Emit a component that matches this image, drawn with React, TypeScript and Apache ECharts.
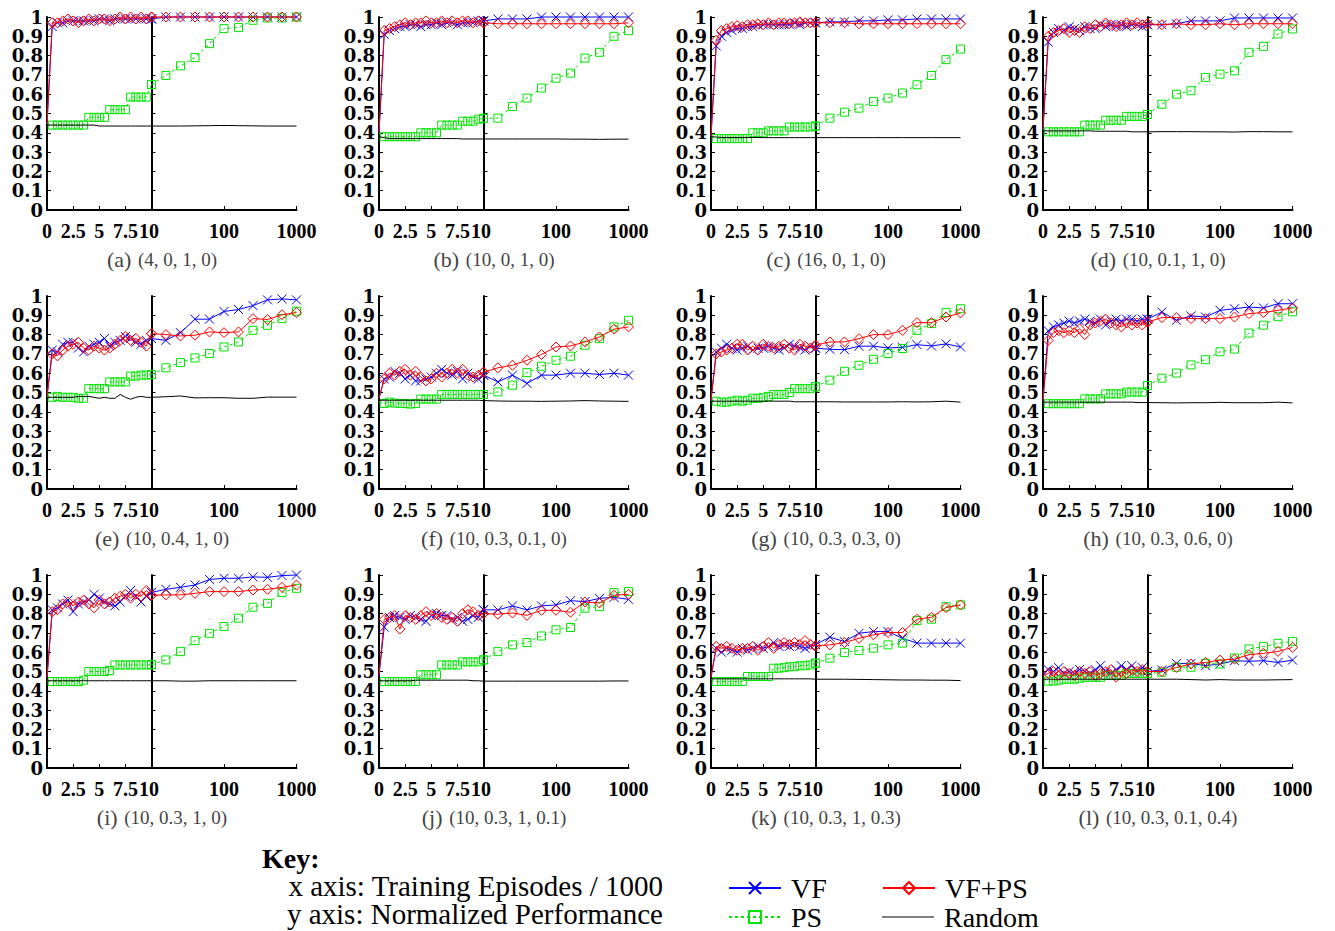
import React, { useEffect, useRef } from 'react';
import * as echarts from 'echarts';

// ---------- data ----------
const leftX = [0, 0.5, 1, 1.5, 2, 2.5, 3, 3.5, 4, 4.5, 5, 5.5, 6, 6.5, 7, 7.5, 8, 8.5, 9, 9.5, 10];
const rightX = [10, 15.8, 25.1, 39.8, 63.1, 100, 158.5, 251, 398, 631, 1000];

const panelTags = ['(a)', '(b)', '(c)', '(d)', '(e)', '(f)', '(g)', '(h)', '(i)', '(j)', '(k)', '(l)'];
const panelParams = [
  '(4, 0, 1, 0)', '(10, 0, 1, 0)', '(16, 0, 1, 0)', '(10, 0.1, 1, 0)',
  '(10, 0.4, 1, 0)', '(10, 0.3, 0.1, 0)', '(10, 0.3, 0.3, 0)', '(10, 0.3, 0.6, 0)',
  '(10, 0.3, 1, 0)', '(10, 0.3, 1, 0.1)', '(10, 0.3, 1, 0.3)', '(10, 0.3, 0.1, 0.4)',
];
const seriesNames = ['VF', 'PS', 'VF+PS', 'Random'];
const keyTitle = 'Key:';
const keyLines = ['x axis: Training Episodes / 1000', 'y axis: Normalized Performance'];

const vfLeft = [
  [0.45, 0.95, 0.97, 0.97, 0.98, 0.98, 0.98, 0.98, 0.98, 0.98, 0.99, 0.99, 0.98, 0.99, 0.99, 0.99, 0.99, 0.99, 0.99, 0.99, 0.99],
  [0.40, 0.91, 0.93, 0.94, 0.95, 0.95, 0.96, 0.96, 0.95, 0.96, 0.96, 0.97, 0.96, 0.97, 0.97, 0.96, 0.97, 0.97, 0.97, 0.98, 0.98],
  [0.38, 0.85, 0.90, 0.92, 0.93, 0.94, 0.94, 0.95, 0.95, 0.96, 0.96, 0.96, 0.96, 0.96, 0.96, 0.96, 0.97, 0.96, 0.97, 0.97, 0.97],
  [0.42, 0.87, 0.92, 0.94, 0.93, 0.95, 0.94, 0.93, 0.95, 0.94, 0.94, 0.96, 0.95, 0.96, 0.95, 0.96, 0.95, 0.96, 0.96, 0.95, 0.96],
  [0.48, 0.72, 0.71, 0.75, 0.76, 0.76, 0.73, 0.71, 0.74, 0.75, 0.76, 0.78, 0.74, 0.76, 0.77, 0.79, 0.78, 0.76, 0.75, 0.77, 0.78],
  [0.47, 0.57, 0.58, 0.61, 0.60, 0.57, 0.59, 0.56, 0.56, 0.57, 0.58, 0.60, 0.62, 0.60, 0.59, 0.61, 0.57, 0.60, 0.58, 0.57, 0.59],
  [0.46, 0.71, 0.73, 0.75, 0.73, 0.72, 0.73, 0.74, 0.72, 0.73, 0.73, 0.74, 0.73, 0.72, 0.73, 0.75, 0.74, 0.73, 0.72, 0.74, 0.73],
  [0.46, 0.82, 0.84, 0.85, 0.86, 0.87, 0.86, 0.87, 0.88, 0.87, 0.86, 0.88, 0.85, 0.87, 0.88, 0.87, 0.88, 0.88, 0.87, 0.88, 0.88],
  [0.47, 0.82, 0.83, 0.85, 0.87, 0.81, 0.85, 0.86, 0.87, 0.90, 0.88, 0.86, 0.85, 0.84, 0.86, 0.89, 0.92, 0.89, 0.86, 0.89, 0.91],
  [0.48, 0.73, 0.78, 0.79, 0.78, 0.77, 0.79, 0.78, 0.77, 0.76, 0.79, 0.80, 0.79, 0.79, 0.77, 0.78, 0.76, 0.77, 0.79, 0.78, 0.82],
  [0.47, 0.62, 0.60, 0.62, 0.61, 0.60, 0.62, 0.61, 0.62, 0.63, 0.62, 0.63, 0.65, 0.63, 0.64, 0.63, 0.64, 0.63, 0.62, 0.63, 0.64],
  [0.48, 0.51, 0.50, 0.52, 0.49, 0.50, 0.49, 0.51, 0.50, 0.49, 0.51, 0.53, 0.50, 0.49, 0.51, 0.53, 0.51, 0.53, 0.50, 0.52, 0.50],
];
const vfRight = [
  [0.99, 1, 1, 1, 1, 1, 1, 1, 1, 1, 1],
  [0.98, 0.99, 0.99, 0.99, 1, 1, 1, 1, 1, 1, 1],
  [0.97, 0.975, 0.975, 0.98, 0.98, 0.985, 0.985, 0.99, 0.99, 0.99, 0.99],
  [0.96, 0.96, 0.965, 0.98, 0.98, 0.98, 0.995, 0.995, 0.995, 0.995, 0.995],
  [0.78, 0.77, 0.81, 0.88, 0.88, 0.92, 0.93, 0.95, 0.98, 0.985, 0.98],
  [0.59, 0.555, 0.59, 0.547, 0.59, 0.59, 0.60, 0.60, 0.593, 0.60, 0.59],
  [0.73, 0.724, 0.722, 0.74, 0.74, 0.731, 0.734, 0.748, 0.741, 0.752, 0.736],
  [0.88, 0.917, 0.874, 0.897, 0.891, 0.926, 0.934, 0.943, 0.938, 0.96, 0.96],
  [0.91, 0.926, 0.936, 0.948, 0.977, 0.983, 0.983, 0.99, 0.988, 0.997, 1.0],
  [0.82, 0.819, 0.84, 0.819, 0.84, 0.845, 0.867, 0.862, 0.879, 0.884, 0.874],
  [0.64, 0.678, 0.655, 0.698, 0.707, 0.707, 0.672, 0.647, 0.647, 0.647, 0.647],
  [0.50, 0.508, 0.542, 0.542, 0.53, 0.539, 0.556, 0.553, 0.556, 0.547, 0.559],
];
const psLeft = [
  [0.45, 0.44, 0.44, 0.44, 0.44, 0.44, 0.44, 0.44, 0.48, 0.48, 0.48, 0.48, 0.52, 0.52, 0.52, 0.52, 0.585, 0.585, 0.585, 0.585, 0.65],
  [0.40, 0.38, 0.38, 0.38, 0.38, 0.38, 0.38, 0.38, 0.40, 0.40, 0.40, 0.40, 0.44, 0.44, 0.44, 0.44, 0.46, 0.46, 0.46, 0.47, 0.475],
  [0.38, 0.37, 0.37, 0.37, 0.37, 0.37, 0.37, 0.37, 0.40, 0.40, 0.40, 0.41, 0.41, 0.41, 0.41, 0.43, 0.43, 0.43, 0.43, 0.43, 0.435],
  [0.42, 0.405, 0.405, 0.405, 0.405, 0.405, 0.405, 0.405, 0.44, 0.44, 0.44, 0.44, 0.465, 0.465, 0.465, 0.465, 0.485, 0.485, 0.485, 0.485, 0.495],
  [0.48, 0.475, 0.48, 0.475, 0.475, 0.475, 0.47, 0.47, 0.52, 0.52, 0.52, 0.52, 0.555, 0.555, 0.555, 0.555, 0.585, 0.585, 0.59, 0.59, 0.593],
  [0.45, 0.443, 0.45, 0.445, 0.443, 0.443, 0.44, 0.443, 0.466, 0.466, 0.466, 0.466, 0.49, 0.49, 0.49, 0.49, 0.49, 0.49, 0.49, 0.49, 0.49],
  [0.46, 0.455, 0.45, 0.45, 0.455, 0.46, 0.455, 0.46, 0.47, 0.47, 0.475, 0.48, 0.49, 0.49, 0.49, 0.50, 0.52, 0.52, 0.52, 0.52, 0.53],
  [0.45, 0.442, 0.442, 0.442, 0.442, 0.442, 0.442, 0.442, 0.467, 0.467, 0.467, 0.467, 0.493, 0.493, 0.493, 0.493, 0.502, 0.502, 0.502, 0.502, 0.536],
  [0.45, 0.448, 0.448, 0.448, 0.448, 0.448, 0.448, 0.455, 0.50, 0.50, 0.50, 0.50, 0.505, 0.534, 0.534, 0.534, 0.534, 0.534, 0.534, 0.534, 0.535],
  [0.45, 0.448, 0.448, 0.448, 0.448, 0.448, 0.448, 0.448, 0.483, 0.483, 0.483, 0.483, 0.534, 0.534, 0.534, 0.534, 0.55, 0.55, 0.55, 0.55, 0.56],
  [0.46, 0.448, 0.448, 0.448, 0.448, 0.448, 0.448, 0.474, 0.474, 0.474, 0.474, 0.474, 0.517, 0.517, 0.52, 0.525, 0.525, 0.53, 0.53, 0.534, 0.543],
  [0.46, 0.45, 0.45, 0.455, 0.46, 0.46, 0.46, 0.465, 0.47, 0.47, 0.47, 0.47, 0.48, 0.48, 0.48, 0.48, 0.49, 0.49, 0.49, 0.49, 0.49],
];
const psRight = [
  [0.65, 0.697, 0.747, 0.79, 0.862, 0.94, 0.946, 0.983, 0.995, 0.995, 1.0],
  [0.475, 0.476, 0.536, 0.58, 0.632, 0.683, 0.709, 0.787, 0.817, 0.90, 0.929],
  [0.435, 0.476, 0.507, 0.528, 0.562, 0.58, 0.606, 0.649, 0.697, 0.779, 0.834],
  [0.495, 0.548, 0.60, 0.618, 0.687, 0.704, 0.721, 0.817, 0.848, 0.912, 0.938],
  [0.593, 0.628, 0.655, 0.679, 0.702, 0.736, 0.762, 0.822, 0.848, 0.883, 0.921],
  [0.49, 0.503, 0.538, 0.603, 0.636, 0.667, 0.688, 0.745, 0.779, 0.84, 0.874],
  [0.53, 0.564, 0.61, 0.641, 0.672, 0.702, 0.728, 0.822, 0.857, 0.914, 0.934],
  [0.536, 0.574, 0.601, 0.643, 0.67, 0.711, 0.725, 0.808, 0.849, 0.893, 0.918],
  [0.535, 0.56, 0.603, 0.66, 0.698, 0.733, 0.776, 0.833, 0.853, 0.909, 0.931],
  [0.56, 0.603, 0.638, 0.65, 0.684, 0.716, 0.728, 0.828, 0.836, 0.909, 0.914],
  [0.543, 0.569, 0.598, 0.609, 0.621, 0.638, 0.647, 0.764, 0.771, 0.836, 0.845],
  [0.49, 0.496, 0.522, 0.522, 0.542, 0.539, 0.57, 0.617, 0.629, 0.646, 0.656],
];
const vfpsLeft = [
  [0.45, 0.97, 0.97, 0.98, 0.99, 0.98, 0.97, 0.98, 0.99, 0.98, 0.99, 0.99, 0.98, 0.99, 1.0, 0.99, 1.0, 0.99, 1.0, 0.99, 1.0],
  [0.40, 0.93, 0.94, 0.95, 0.96, 0.97, 0.96, 0.97, 0.97, 0.98, 0.97, 0.97, 0.98, 0.97, 0.98, 0.97, 0.98, 0.98, 0.97, 0.98, 0.97],
  [0.38, 0.88, 0.93, 0.94, 0.95, 0.955, 0.95, 0.96, 0.96, 0.965, 0.96, 0.97, 0.96, 0.97, 0.97, 0.965, 0.97, 0.975, 0.97, 0.97, 0.97],
  [0.42, 0.90, 0.92, 0.93, 0.94, 0.92, 0.93, 0.92, 0.95, 0.94, 0.96, 0.95, 0.97, 0.96, 0.95, 0.96, 0.97, 0.96, 0.97, 0.96, 0.965],
  [0.48, 0.70, 0.69, 0.72, 0.74, 0.75, 0.76, 0.73, 0.72, 0.74, 0.73, 0.72, 0.73, 0.75, 0.77, 0.79, 0.77, 0.78, 0.76, 0.74, 0.805],
  [0.47, 0.57, 0.60, 0.59, 0.61, 0.62, 0.59, 0.61, 0.58, 0.56, 0.57, 0.60, 0.58, 0.60, 0.62, 0.60, 0.62, 0.59, 0.58, 0.59, 0.605],
  [0.46, 0.70, 0.71, 0.72, 0.73, 0.75, 0.75, 0.72, 0.74, 0.72, 0.75, 0.74, 0.73, 0.74, 0.75, 0.73, 0.72, 0.75, 0.74, 0.73, 0.745],
  [0.46, 0.77, 0.81, 0.82, 0.81, 0.82, 0.81, 0.83, 0.80, 0.85, 0.86, 0.87, 0.88, 0.86, 0.85, 0.84, 0.86, 0.85, 0.86, 0.85, 0.865],
  [0.47, 0.81, 0.82, 0.85, 0.86, 0.84, 0.86, 0.87, 0.85, 0.83, 0.87, 0.85, 0.86, 0.88, 0.89, 0.90, 0.88, 0.90, 0.89, 0.92, 0.895],
  [0.48, 0.77, 0.78, 0.79, 0.72, 0.79, 0.78, 0.77, 0.79, 0.81, 0.79, 0.80, 0.78, 0.77, 0.78, 0.76, 0.80, 0.82, 0.81, 0.79, 0.80],
  [0.47, 0.63, 0.62, 0.63, 0.62, 0.61, 0.62, 0.62, 0.63, 0.61, 0.63, 0.65, 0.62, 0.64, 0.65, 0.64, 0.65, 0.64, 0.66, 0.64, 0.633],
  [0.48, 0.49, 0.50, 0.48, 0.50, 0.49, 0.48, 0.50, 0.49, 0.50, 0.48, 0.49, 0.50, 0.51, 0.47, 0.50, 0.49, 0.51, 0.50, 0.51, 0.50],
];
const vfpsRight = [
  [1.0, 1, 1, 1, 1, 1, 1, 1, 1, 1, 1],
  [0.97, 0.965, 0.965, 0.965, 0.965, 0.965, 0.965, 0.965, 0.965, 0.965, 0.97],
  [0.97, 0.97, 0.97, 0.965, 0.965, 0.965, 0.965, 0.965, 0.965, 0.965, 0.965],
  [0.965, 0.96, 0.965, 0.96, 0.96, 0.965, 0.96, 0.965, 0.965, 0.965, 0.965],
  [0.805, 0.80, 0.793, 0.797, 0.814, 0.81, 0.814, 0.883, 0.878, 0.903, 0.914],
  [0.605, 0.628, 0.641, 0.667, 0.697, 0.736, 0.741, 0.762, 0.788, 0.828, 0.84],
  [0.745, 0.762, 0.762, 0.779, 0.80, 0.80, 0.822, 0.862, 0.862, 0.891, 0.912],
  [0.865, 0.888, 0.888, 0.883, 0.883, 0.883, 0.891, 0.909, 0.914, 0.926, 0.938],
  [0.895, 0.897, 0.897, 0.905, 0.914, 0.914, 0.914, 0.922, 0.926, 0.936, 0.948],
  [0.80, 0.797, 0.803, 0.791, 0.817, 0.817, 0.807, 0.86, 0.855, 0.895, 0.90],
  [0.633, 0.638, 0.65, 0.672, 0.69, 0.702, 0.702, 0.771, 0.781, 0.831, 0.845],
  [0.50, 0.50, 0.521, 0.539, 0.547, 0.559, 0.564, 0.587, 0.594, 0.604, 0.625],
];
const rndLeft = [
  [0.44, 0.44, 0.44, 0.44, 0.44, 0.44, 0.44, 0.44, 0.44, 0.44, 0.435, 0.435, 0.435, 0.435, 0.435, 0.435, 0.435, 0.435, 0.435, 0.435, 0.435],
  [0.38, 0.375, 0.37, 0.37, 0.37, 0.37, 0.37, 0.37, 0.37, 0.37, 0.37, 0.37, 0.37, 0.37, 0.37, 0.37, 0.368, 0.368, 0.368, 0.368, 0.368],
  [0.38, 0.378, 0.376, 0.376, 0.376, 0.376, 0.376, 0.376, 0.376, 0.376, 0.375, 0.375, 0.375, 0.375, 0.375, 0.375, 0.375, 0.375, 0.375, 0.375, 0.375],
  [0.41, 0.41, 0.41, 0.41, 0.41, 0.41, 0.41, 0.41, 0.41, 0.41, 0.408, 0.408, 0.408, 0.408, 0.408, 0.408, 0.408, 0.405, 0.405, 0.405, 0.405],
  [0.475, 0.475, 0.475, 0.475, 0.475, 0.475, 0.48, 0.48, 0.48, 0.475, 0.47, 0.475, 0.47, 0.47, 0.49, 0.475, 0.465, 0.475, 0.48, 0.475, 0.475],
  [0.46, 0.46, 0.46, 0.46, 0.46, 0.46, 0.46, 0.46, 0.46, 0.46, 0.46, 0.46, 0.46, 0.46, 0.46, 0.46, 0.46, 0.46, 0.46, 0.46, 0.458],
  [0.455, 0.455, 0.455, 0.455, 0.455, 0.455, 0.455, 0.455, 0.455, 0.455, 0.455, 0.455, 0.455, 0.455, 0.455, 0.455, 0.452, 0.452, 0.452, 0.452, 0.452],
  [0.45, 0.45, 0.45, 0.45, 0.45, 0.45, 0.45, 0.45, 0.45, 0.45, 0.45, 0.45, 0.45, 0.45, 0.45, 0.45, 0.45, 0.45, 0.448, 0.448, 0.448],
  [0.452, 0.452, 0.452, 0.452, 0.452, 0.452, 0.452, 0.452, 0.452, 0.452, 0.452, 0.452, 0.452, 0.452, 0.452, 0.452, 0.452, 0.452, 0.452, 0.452, 0.452],
  [0.452, 0.452, 0.452, 0.452, 0.452, 0.452, 0.452, 0.455, 0.455, 0.455, 0.455, 0.455, 0.455, 0.455, 0.455, 0.455, 0.455, 0.455, 0.452, 0.452, 0.45],
  [0.462, 0.462, 0.462, 0.462, 0.462, 0.462, 0.462, 0.462, 0.462, 0.462, 0.462, 0.462, 0.462, 0.462, 0.462, 0.462, 0.462, 0.462, 0.462, 0.462, 0.46],
  [0.46, 0.46, 0.46, 0.46, 0.46, 0.46, 0.46, 0.46, 0.46, 0.46, 0.46, 0.46, 0.46, 0.46, 0.46, 0.46, 0.46, 0.46, 0.46, 0.46, 0.46],
];
const rndRight = [
  [0.435, 0.435, 0.435, 0.436, 0.437, 0.438, 0.437, 0.436, 0.435, 0.435, 0.435],
  [0.368, 0.368, 0.368, 0.368, 0.368, 0.368, 0.367, 0.367, 0.366, 0.367, 0.367],
  [0.375, 0.375, 0.375, 0.375, 0.375, 0.375, 0.375, 0.375, 0.375, 0.375, 0.375],
  [0.405, 0.406, 0.406, 0.406, 0.405, 0.405, 0.404, 0.406, 0.406, 0.405, 0.405],
  [0.475, 0.478, 0.482, 0.472, 0.473, 0.473, 0.47, 0.47, 0.476, 0.476, 0.476],
  [0.458, 0.456, 0.455, 0.455, 0.454, 0.455, 0.456, 0.458, 0.456, 0.455, 0.454],
  [0.452, 0.452, 0.451, 0.451, 0.451, 0.451, 0.452, 0.451, 0.452, 0.455, 0.45],
  [0.448, 0.447, 0.446, 0.447, 0.447, 0.449, 0.447, 0.447, 0.447, 0.45, 0.446],
  [0.452, 0.452, 0.45, 0.45, 0.452, 0.452, 0.452, 0.452, 0.452, 0.452, 0.452],
  [0.45, 0.45, 0.45, 0.45, 0.45, 0.45, 0.45, 0.45, 0.45, 0.451, 0.451],
  [0.46, 0.46, 0.46, 0.459, 0.458, 0.457, 0.456, 0.456, 0.455, 0.455, 0.453],
  [0.46, 0.46, 0.46, 0.458, 0.456, 0.458, 0.456, 0.456, 0.456, 0.457, 0.458],
];

// ---------- layout & styles ----------
const COL_X = [47, 379, 711, 1043];
const ROW_Y = [17, 296, 575];
const LEFT_W = 104.5;
const RIGHT_W = 145;
const PLOT_H = 193;
const FONT = 'Liberation Serif';

const seriesStyles: any[] = [
  { color: '#0000ff', symbol: 'path://M0,0L10,10M10,0L0,10', size: 9, dash: 'solid' },
  { color: '#00e600', symbol: 'rect', size: 8, dash: [3, 3] },
  { color: '#ff0000', symbol: 'diamond', size: 10, dash: 'solid' },
  { color: '#000000', symbol: 'none', size: 0, dash: 'solid' },
];
const leftSets = [vfLeft, psLeft, vfpsLeft, rndLeft];
const rightSets = [vfRight, psRight, vfpsRight, rndRight];
// legend slot positions: [left, centerY]
const legendSlots = [[728, 886], [728, 915], [882, 886], [882, 915]];

function buildOption() {
  const grid: any[] = [];
  const xAxis: any[] = [];
  const yAxis: any[] = [];
  const series: any[] = [];
  const graphic: any[] = [];

  const axisLine = { show: true, onZero: false, lineStyle: { color: '#000', width: 2 } };
  const axisTick = { show: true, inside: true, length: 4, lineStyle: { color: '#000', width: 1 } };
  const xFont = { fontFamily: FONT, fontWeight: 'bold', fontSize: 20, color: '#000' };
  const yFont = { fontFamily: 'DejaVu Serif', fontWeight: 'bold', fontSize: 18, lineHeight: 8, color: '#000' };

  for (let p = 0; p < 12; p++) {
    const c = p % 4;
    const r = Math.floor(p / 4);
    const x0 = COL_X[c];
    const y0 = ROW_Y[r];
    const gl = 2 * p;
    const gr = 2 * p + 1;
    grid.push({ left: x0, top: y0, width: LEFT_W, height: PLOT_H, containLabel: false, outerBoundsMode: 'none' });
    grid.push({ left: x0 + LEFT_W, top: y0, width: RIGHT_W, height: PLOT_H, containLabel: false, outerBoundsMode: 'none' });

    xAxis.push({
      gridIndex: gl, type: 'value', min: 0, max: 10, interval: 2.5,
      axisLine, axisTick, splitLine: { show: false },
      axisLabel: {
        ...xFont, margin: 11, showMinLabel: true, showMaxLabel: true, hideOverlap: false,
        formatter: (v: number) => (v === 10 ? '{r|10}' : String(v)),
        rich: { r: { ...xFont, padding: [0, 5, 0, 0] } },
      },
    });
    xAxis.push({
      gridIndex: gr, type: 'log', logBase: 10, min: 10, max: 1000,
      axisLine, axisTick, splitLine: { show: false }, minorTick: { show: false },
      axisLabel: {
        ...xFont, margin: 11, showMinLabel: false, showMaxLabel: true, hideOverlap: false,
        formatter: (v: number) => String(Math.round(v)),
      },
    });
    yAxis.push({
      gridIndex: gl, type: 'value', min: 0, max: 1, interval: 0.1,
      axisLine, axisTick, splitLine: { show: false },
      axisLabel: { ...yFont, margin: 4, showMinLabel: true, showMaxLabel: true, hideOverlap: false },
    });
    yAxis.push({
      gridIndex: gr, type: 'value', min: 0, max: 1, interval: 0.1,
      axisLine, axisTick, splitLine: { show: false },
      axisLabel: { show: false },
    });

    for (let s = 0; s < 4; s++) {
      const st = seriesStyles[s];
      const common = {
        type: 'line', name: seriesNames[s], clip: false,
        symbol: st.symbol, symbolSize: st.size, showSymbol: st.symbol !== 'none',
        lineStyle: { color: st.color, width: 1, type: st.dash },
        itemStyle: { color: 'transparent', borderColor: st.color, borderWidth: 1 },
        emphasis: { disabled: true },
        silent: true,
        z: 2 + s,
      };
      const lv = leftSets[s][p];
      const rv = rightSets[s][p];
      series.push({
        ...common, xAxisIndex: gl, yAxisIndex: gl,
        data: leftX.map((x, i) => (i === 0 ? { value: [x, lv[i]], symbol: 'none' } : [x, lv[i]])),
      });
      series.push({
        ...common, xAxisIndex: gr, yAxisIndex: gr,
        data: rightX.map((x, i) => [x, rv[i]]),
      });
    }

    graphic.push({
      type: 'text', x: x0 + 115, y: y0 + PLOT_H + 49,
      style: {
        text: `{t|${panelTags[p]}}  {q|${panelParams[p]}}`,
        align: 'center', verticalAlign: 'middle',
        rich: {
          t: { fontFamily: FONT, fontSize: 22, fill: '#444' },
          q: { fontFamily: FONT, fontSize: 19, fill: '#444' },
        },
      },
    });
  }

  graphic.push({
    type: 'text', x: 262, y: 858,
    style: { text: keyTitle, fontFamily: FONT, fontWeight: 'bold', fontSize: 28, lineHeight: 24, fill: '#000', align: 'left', verticalAlign: 'middle' },
  });
  graphic.push({
    type: 'text', x: 663, y: 886,
    style: { text: keyLines[0], fontFamily: FONT, fontSize: 29, lineHeight: 24, fill: '#000', align: 'right', verticalAlign: 'middle' },
  });
  graphic.push({
    type: 'text', x: 663, y: 914,
    style: { text: keyLines[1], fontFamily: FONT, fontSize: 29, lineHeight: 24, fill: '#000', align: 'right', verticalAlign: 'middle' },
  });

  const legend = seriesNames.map((name, i) => {
    const [lx, cy] = legendSlots[i];
    const isRandom = seriesStyles[i].symbol === 'none';
    const item: any = {
      show: true,
      orient: 'horizontal',
      left: lx,
      top: cy - 12,
      padding: 0,
      itemWidth: 52,
      itemHeight: isRandom ? 1 : 15,
      selectedMode: false,
      textStyle: { fontFamily: FONT, fontSize: 28, lineHeight: 24, color: '#000', padding: [0, 0, 0, 5] },
      data: [isRandom ? { name, icon: 'rect' } : name],
    };
    if (isRandom) item.itemStyle = { color: '#000', borderWidth: 0 };
    return item;
  });

  return {
    animation: false,
    backgroundColor: '#ffffff',
    grid, xAxis, yAxis, series, graphic, legend,
    tooltip: { show: false },
  };
}

export default function App() {
  const ref = useRef<HTMLDivElement>(null);
  useEffect(() => {
    const chart = echarts.init(ref.current!, null, { renderer: 'svg' });
    chart.setOption(buildOption() as any);
    return () => chart.dispose();
  }, []);
  return (
    <div
      ref={ref}
      style={{ position: 'absolute', left: 0, top: 0, width: 1335, height: 931, background: '#fff' }}
    />
  );
}
